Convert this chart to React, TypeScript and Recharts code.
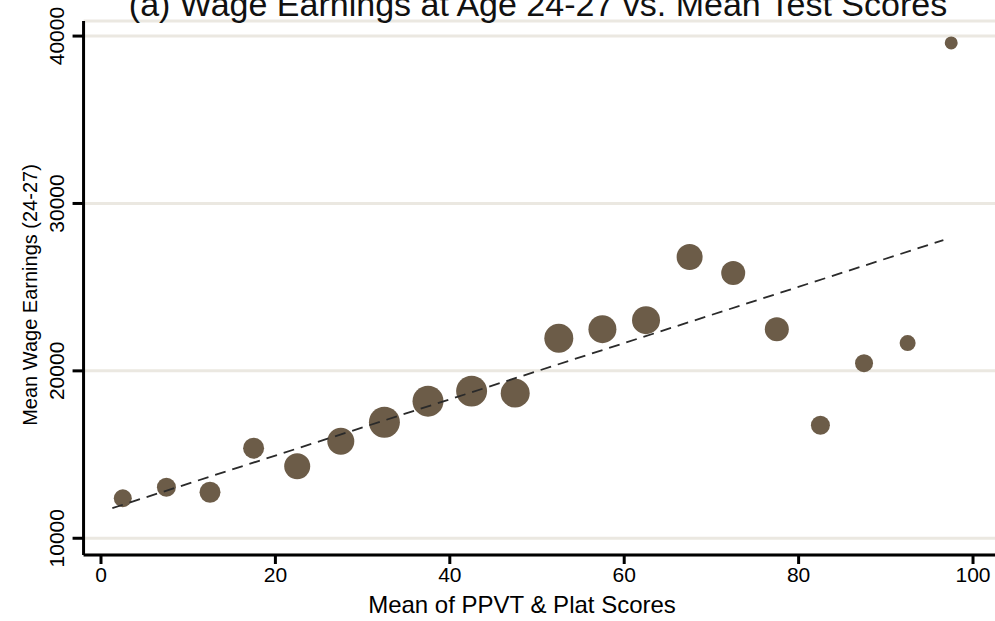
import { CartesianGrid, Scatter, ScatterChart, XAxis, YAxis, ZAxis } from "recharts";

// bin midpoints of the mean test score (0-100)
const scoreBins = [2.5, 7.5, 12.5, 17.5, 22.5, 27.5, 32.5, 37.5, 42.5, 47.5, 52.5, 57.5, 62.5, 67.5, 72.5, 77.5, 82.5, 87.5, 92.5, 97.5];
// mean wage earnings age 24-27 per bin
const meanWage = [12390, 13050, 12750, 15380, 14300, 15800, 16930, 18190, 18790, 18670, 21950, 22490, 23030, 26800, 25840, 22490, 16750, 20460, 21660, 39590];
// obs per bin (marker area)
const binObs = [81, 90, 110, 110, 169, 182, 240, 240, 240, 210, 210, 196, 196, 169, 144, 144, 90, 81, 64, 42];

// fitted line end points
const fitScore = [1.3, 96.6];
const fitWage = [11800, 27810];

const xTicks = [0, 20, 40, 60, 80, 100];
const yTicks = [10000, 20000, 30000, 40000];

const FONT = '"Liberation Sans", Arial, sans-serif';
const DOT = "#6c5c48";

const points = scoreBins.map((x, i) => ({ x, y: meanWage[i], n: binObs[i] }));
const fit = fitScore.map((x, i) => ({ x, y: fitWage[i] }));

type TickProps = { x?: number; y?: number; payload?: { value: number } };

function YTick({ x = 0, y = 0, payload }: TickProps) {
  return (
    <text
      transform={`translate(${x - 9}, ${y}) rotate(-90)`}
      textAnchor="middle"
      fontSize={21}
      fontFamily={FONT}
      fill="#000"
    >
      {payload?.value}
    </text>
  );
}

export default function App() {
  return (
    <div
      style={{
        position: "fixed",
        left: 0,
        top: 0,
        width: 995,
        height: 621,
        overflow: "hidden",
        background: "#fff",
      }}
    >
      <ScatterChart
        width={1010}
        height={621}
        margin={{ top: 21, right: 2.1, bottom: 6, left: 23.56 }}
      >
        <CartesianGrid horizontal vertical={false} stroke="#ebe8e1" strokeWidth={3} />
        <XAxis
          type="number"
          dataKey="x"
          domain={[-2, 104]}
          ticks={xTicks}
          allowDataOverflow
          height={60}
          tickSize={9}
          tickMargin={3}
          axisLine={{ stroke: "#000", strokeWidth: 3 }}
          tickLine={{ stroke: "#000", strokeWidth: 3 }}
          tick={{ fontSize: 21, fontFamily: FONT, fill: "#000" }}
          label={{
            content: () => (
              <text x={522} y={613} textAnchor="middle" fontSize={24} fontFamily={FONT} fill="#000">
                Mean of PPVT &amp; Plat Scores
              </text>
            ),
          }}
        />
        <YAxis
          type="number"
          dataKey="y"
          domain={[9000, 40900]}
          ticks={yTicks}
          allowDataOverflow
          width={60}
          tickSize={11}
          tickMargin={0}
          axisLine={{ stroke: "#000", strokeWidth: 3 }}
          tickLine={{ stroke: "#000", strokeWidth: 3 }}
          tick={<YTick />}
          label={{
            content: () => (
              <text
                transform="translate(37, 295) rotate(-90)"
                textAnchor="middle"
                fontSize={20}
                fontFamily={FONT}
                fill="#000"
              >
                Mean Wage Earnings (24-27)
              </text>
            ),
          }}
        />
        <ZAxis type="number" dataKey="n" domain={[0, 240]} range={[0, 754]} />
        <Scatter data={points} fill={DOT} isAnimationActive={false} />
        <Scatter
          data={fit}
          line={{ stroke: "#2a2a2a", strokeWidth: 1.8, strokeDasharray: "11 7" }}
          lineType="joint"
          shape={() => <g />}
          isAnimationActive={false}
        />
      </ScatterChart>
      <svg
        width={995}
        height={40}
        style={{ position: "absolute", left: 0, top: 0, pointerEvents: "none" }}
      >
        <text x={538} y={16} textAnchor="middle" fontSize={34} fontFamily={FONT} fill="#111">
          (a) Wage Earnings at Age 24-27 vs. Mean Test Scores
        </text>
      </svg>
    </div>
  );
}
